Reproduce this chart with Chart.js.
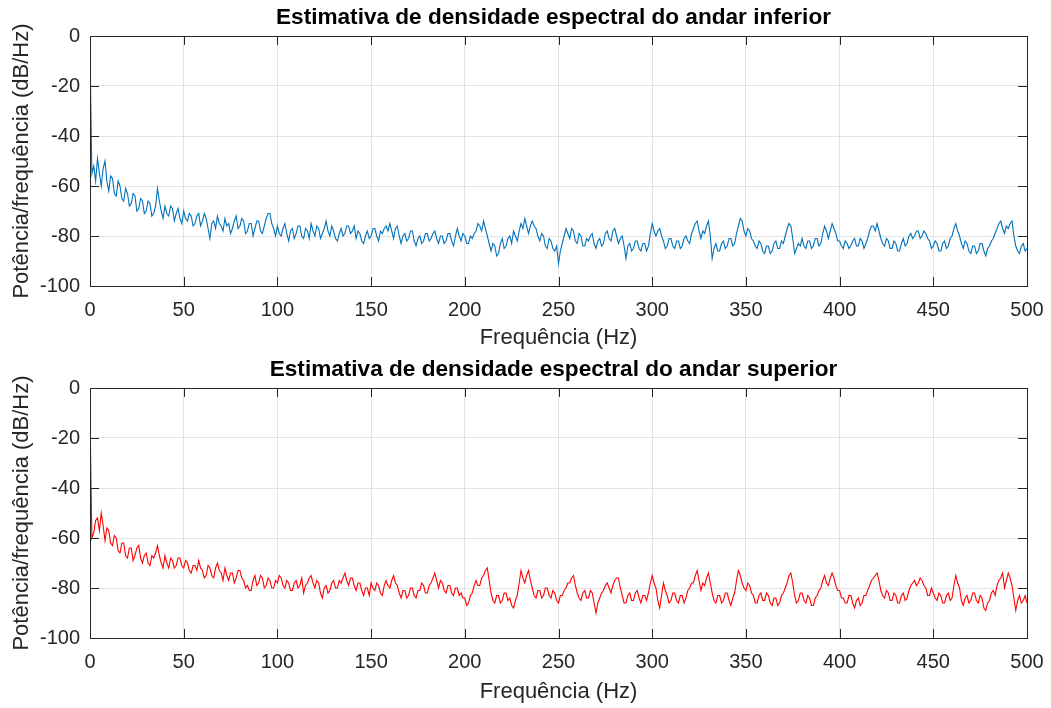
<!DOCTYPE html>
<html lang="pt">
<head>
<meta charset="utf-8">
<title>Densidade espectral</title>
<script src="https://cdn.jsdelivr.net/npm/chart.js@4/dist/chart.umd.min.js"></script>
<style>
  html, body { margin: 0; padding: 0; background: #fff; }
  #wrap { position: relative; width: 1051px; height: 708px; overflow: hidden; }
  .painel { position: absolute; left: 0; width: 1051px; }
  #p1 { top: 0; height: 354px; }
  #p2 { top: 352px; height: 356px; }
</style>
</head>
<body>
<div id="wrap">
  <div class="painel" id="p1"><canvas id="graficoInferior"></canvas></div>
  <div class="painel" id="p2"><canvas id="graficoSuperior"></canvas></div>
</div>
<script>
// Eixo de frequencia (Hz), um ponto por Hz
const frequencias = [];
for (let f = 0; f <= 500; f++) frequencias.push(f);

// PSD do andar inferior (dB/Hz) (0..500 Hz)
const psdInferior = [
  -6, -55, -52, -58, -49, -55, -60, -53, -50, -58,
  -62, -56, -57, -63, -64, -58, -60, -65, -66, -61,
  -63, -68, -67, -63, -64, -70, -69, -65, -66, -71,
  -70, -66, -67, -72, -71, -68, -61, -66, -70, -73,
  -68, -71, -72, -68, -69, -74, -71, -69, -73, -75,
  -70, -73, -74, -71, -72, -76, -75, -72, -71, -76,
  -74, -71, -73, -77, -81, -75, -74, -77, -72, -75,
  -76, -78, -73, -76, -75, -79, -77, -74, -72, -77,
  -76, -73, -74, -79, -78, -75, -75, -80, -77, -74,
  -74, -78, -79, -76, -73, -71, -71, -75, -77, -80,
  -76, -79, -80, -77, -75, -79, -82, -78, -77, -81,
  -79, -76, -76, -80, -81, -77, -78, -81, -75, -78,
  -80, -76, -77, -81, -79, -77, -74, -78, -80, -76,
  -78, -81, -82, -79, -77, -80, -79, -76, -76, -79,
  -78, -76, -81, -78, -79, -82, -83, -80, -78, -81,
  -80, -77, -77, -80, -82, -78, -79, -77, -76, -78,
  -75, -78, -81, -77, -76, -80, -83, -80, -79, -82,
  -81, -78, -78, -82, -84, -81, -80, -83, -82, -79,
  -79, -82, -81, -79, -78, -81, -83, -80, -80, -83,
  -82, -79, -79, -82, -84, -80, -77, -80, -82, -79,
  -80, -83, -83, -80, -81, -79, -78, -75, -76, -78,
  -74, -77, -80, -83, -86, -83, -84, -88, -87, -83,
  -81, -85, -84, -81, -80, -83, -78, -80, -82, -78,
  -75, -77, -73, -76, -79, -76, -74, -76, -77, -80,
  -82, -79, -80, -84, -85, -81, -82, -85, -86, -84,
  -91, -86, -83, -80, -77, -79, -81, -77, -78, -82,
  -83, -79, -80, -84, -84, -81, -82, -80, -79, -83,
  -85, -82, -81, -84, -83, -79, -78, -81, -82, -78,
  -77, -80, -83, -81, -80, -84, -89, -84, -83, -86,
  -85, -82, -82, -85, -86, -83, -83, -86, -84, -79,
  -75, -78, -80, -78, -77, -80, -82, -85, -84, -81,
  -81, -84, -85, -82, -82, -85, -84, -81, -80, -82,
  -83, -79, -77, -75, -74, -78, -81, -78, -79, -76,
  -74, -80, -89, -85, -83, -86, -86, -83, -82, -85,
  -84, -81, -81, -84, -83, -79, -76, -73, -74, -78,
  -80, -77, -78, -81, -82, -84, -85, -82, -83, -86,
  -87, -84, -84, -87, -86, -83, -82, -85, -85, -82,
  -83, -80, -77, -75, -76, -81, -87, -85, -83, -84,
  -81, -84, -85, -82, -82, -85, -84, -81, -81, -84,
  -83, -79, -76, -78, -81, -78, -75, -77, -79, -82,
  -82, -84, -85, -82, -83, -85, -84, -82, -81, -84,
  -84, -81, -82, -85, -83, -81, -78, -76, -76, -78,
  -75, -78, -81, -83, -84, -81, -82, -85, -85, -82,
  -83, -86, -86, -83, -81, -84, -83, -80, -79, -81,
  -80, -78, -78, -81, -80, -78, -79, -81, -82, -85,
  -84, -82, -83, -86, -86, -83, -82, -85, -84, -81,
  -80, -77, -75, -78, -80, -83, -85, -82, -83, -86,
  -87, -84, -84, -87, -86, -83, -83, -86, -88, -85,
  -84, -82, -81, -79, -77, -75, -74, -77, -79, -76,
  -77, -75, -74, -80, -84, -86, -87, -84, -83, -86,
  -85
];

// PSD do andar superior (dB/Hz) (0..500 Hz)
const psdSuperior = [
  -12, -60, -58, -53, -52, -57, -50, -55, -61, -56,
  -57, -62, -63, -59, -60, -65, -66, -62, -62, -67,
  -68, -64, -64, -69, -67, -64, -63, -68, -70, -67,
  -66, -70, -71, -67, -68, -66, -63, -67, -70, -72,
  -67, -70, -72, -68, -69, -72, -71, -68, -68, -71,
  -72, -69, -70, -73, -74, -71, -71, -73, -69, -72,
  -73, -76, -75, -71, -72, -75, -76, -72, -70, -73,
  -74, -77, -72, -75, -77, -74, -74, -78, -76, -73,
  -73, -76, -77, -80, -79, -81, -81, -77, -75, -79,
  -78, -75, -76, -80, -79, -76, -77, -80, -80, -77,
  -78, -75, -76, -79, -80, -77, -78, -81, -81, -78,
  -77, -80, -79, -76, -82, -79, -78, -76, -75, -78,
  -80, -77, -78, -82, -84, -80, -79, -82, -81, -78,
  -77, -80, -80, -77, -78, -76, -74, -77, -79, -76,
  -76, -79, -81, -78, -78, -81, -83, -80, -80, -83,
  -78, -80, -81, -78, -79, -82, -83, -79, -77, -79,
  -80, -77, -75, -78, -79, -82, -84, -81, -81, -84,
  -83, -80, -80, -83, -84, -81, -81, -78, -79, -82,
  -82, -79, -78, -76, -74, -77, -80, -77, -78, -81,
  -82, -79, -79, -82, -83, -80, -80, -83, -82, -84,
  -84, -87, -86, -83, -82, -79, -77, -79, -79, -76,
  -75, -73, -72, -77, -82, -85, -86, -83, -83, -86,
  -85, -82, -82, -85, -84, -87, -88, -85, -83, -78,
  -73, -76, -78, -75, -73, -77, -80, -83, -84, -81,
  -81, -84, -83, -80, -80, -83, -84, -81, -82, -85,
  -86, -83, -83, -81, -80, -78, -78, -76, -75, -79,
  -82, -84, -85, -82, -81, -84, -84, -81, -82, -86,
  -90, -86, -84, -82, -81, -79, -78, -80, -82, -79,
  -77, -76, -76, -80, -83, -86, -86, -83, -82, -85,
  -85, -82, -81, -84, -86, -83, -83, -85, -82, -78,
  -75, -78, -80, -85, -88, -83, -78, -81, -83, -86,
  -85, -82, -82, -85, -86, -83, -83, -86, -84, -81,
  -80, -78, -78, -75, -73, -77, -81, -78, -79, -76,
  -74, -78, -82, -85, -86, -83, -83, -86, -85, -82,
  -82, -85, -87, -84, -82, -77, -73, -75, -78, -80,
  -81, -78, -79, -82, -83, -86, -86, -83, -82, -85,
  -85, -82, -83, -86, -87, -84, -84, -87, -86, -83,
  -82, -80, -78, -75, -74, -78, -83, -86, -85, -82,
  -82, -85, -86, -83, -84, -87, -87, -84, -83, -81,
  -80, -77, -75, -78, -79, -76, -74, -76, -79, -81,
  -81, -84, -84, -86, -86, -83, -83, -86, -88, -85,
  -84, -87, -86, -83, -83, -81, -79, -77, -76, -75,
  -74, -77, -81, -83, -84, -81, -82, -85, -85, -82,
  -83, -86, -86, -83, -82, -85, -84, -81, -79, -78,
  -77, -79, -78, -76, -77, -79, -80, -83, -83, -80,
  -82, -84, -85, -82, -83, -86, -86, -83, -82, -85,
  -84, -79, -75, -78, -80, -85, -87, -84, -83, -86,
  -85, -82, -82, -85, -86, -83, -84, -88, -89, -86,
  -85, -82, -81, -83, -79, -77, -76, -74, -80, -77,
  -74, -76, -79, -84, -89, -85, -83, -86, -85, -83,
  -86
];

// Marcas dos eixos
const ticksX = [0, 50, 100, 150, 200, 250, 300, 350, 400, 450, 500];
const ticksY = [-100, -80, -60, -40, -20, 0];

const corTexto = '#262626';
const corGrade = '#e3e3e3';
const fonte = '"Liberation Sans", Arial, Helvetica, sans-serif';

// Titulo centrado sobre a area do grafico
const tituloPlugin = {
  id: 'tituloArea',
  afterDraw(chart, args, opts) {
    const { ctx, chartArea: a } = chart;
    ctx.save();
    ctx.fillStyle = '#000';
    ctx.font = 'bold 22.6px ' + fonte;
    ctx.textAlign = 'center';
    ctx.textBaseline = 'middle';
    ctx.fillText(opts.texto, (a.left + a.right) / 2 - 5, 18);
    ctx.restore();
  }
};

// Caixa em volta do grafico com marcas para dentro (estilo MATLAB)
const caixaPlugin = {
  id: 'caixa',
  afterDatasetsDraw(chart) {
    const { ctx, chartArea: a, scales } = chart;
    const tam = 9;
    ctx.save();
    ctx.strokeStyle = corTexto;
    ctx.lineWidth = 1;
    ctx.beginPath();
    scales.x.ticks.forEach(t => {
      const px = Math.round(scales.x.getPixelForValue(t.value)) + 0.5;
      ctx.moveTo(px, a.bottom); ctx.lineTo(px, a.bottom - tam);
      ctx.moveTo(px, a.top); ctx.lineTo(px, a.top + tam);
    });
    scales.y.ticks.forEach(t => {
      const py = Math.round(scales.y.getPixelForValue(t.value)) + 0.5;
      ctx.moveTo(a.left, py); ctx.lineTo(a.left + tam, py);
      ctx.moveTo(a.right, py); ctx.lineTo(a.right - tam, py);
    });
    ctx.stroke();
    ctx.strokeRect(Math.round(a.left) + 0.5, Math.round(a.top) + 0.5,
      Math.round(a.right - a.left), Math.round(a.bottom - a.top));
    ctx.restore();
  }
};

function criarGrafico(id, titulo, valores, cor, alturaEixoX) {
  const pontos = frequencias.map((f, i) => ({ x: f, y: valores[i] }));
  return new Chart(document.getElementById(id), {
    type: 'line',
    data: {
      datasets: [{
        data: pontos,
        borderColor: cor,
        borderWidth: 1.1,
        pointRadius: 0,
        tension: 0,
        fill: false
      }]
    },
    options: {
      responsive: true,
      maintainAspectRatio: false,
      animation: false,
      layout: { padding: { left: 0, right: 24, top: 36, bottom: 0 } },
      plugins: {
        legend: { display: false },
        tooltip: { enabled: false },
        title: { display: false },
        tituloArea: { texto: titulo }
      },
      scales: {
        x: {
          type: 'linear',
          min: 0,
          max: 500,
          afterBuildTicks: s => { s.ticks = ticksX.map(v => ({ value: v })); },
          afterFit: s => {
            s.height = alturaEixoX;
            s.paddingLeft = 0;
            s.paddingRight = 0;
          },
          grid: { color: corGrade, drawTicks: false },
          border: { display: false },
          ticks: { color: corTexto, padding: 12, maxRotation: 0, font: { family: fonte, size: 20 } },
          title: {
            display: true,
            text: 'Frequência (Hz)',
            color: corTexto,
            font: { family: fonte, size: 22 },
            padding: { top: 0, bottom: 3 }
          }
        },
        y: {
          min: -100,
          max: 0,
          afterBuildTicks: s => { s.ticks = ticksY.map(v => ({ value: v })); },
          afterFit: s => {
            s.width = 90;
            s.paddingTop = 0;
            s.paddingBottom = 0;
          },
          grid: { color: corGrade, drawTicks: false },
          border: { display: false },
          ticks: { color: corTexto, padding: 10, font: { family: fonte, size: 20 } },
          title: {
            display: true,
            text: 'Potência/frequência (dB/Hz)',
            color: corTexto,
            font: { family: fonte, size: 22 },
            padding: { top: 9, bottom: 0 }
          }
        }
      }
    },
    plugins: [caixaPlugin, tituloPlugin]
  });
}

document.addEventListener('DOMContentLoaded', function () {
  criarGrafico('graficoInferior', 'Estimativa de densidade espectral do andar inferior', psdInferior, '#0072BD', 68);
  criarGrafico('graficoSuperior', 'Estimativa de densidade espectral do andar superior', psdSuperior, '#FF0000', 70);
});
</script>
</body>
</html>
